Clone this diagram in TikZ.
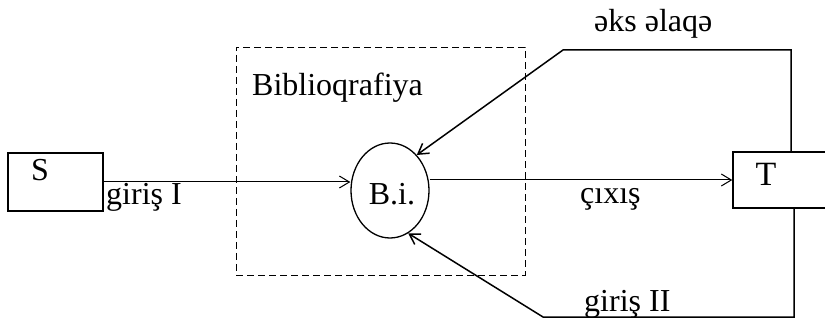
\documentclass[tikz,border=0pt]{standalone}
\usepackage{fontspec}
\setmainfont{Liberation Serif}
\usetikzlibrary{arrows.meta,shapes.geometric}

\begin{document}
\begin{tikzpicture}[x=1pt, y=-1pt,
    box/.style={rectangle, draw, line width=1.5pt, inner sep=0pt},
    lbl/.style={font=\fontsize{32}{38}\selectfont, inner sep=0pt},
    arrow/.style={-{Straight Barb[length=10pt,width=12pt]}, line width=1pt},
    feed/.style={arrow, line width=1.5pt},
    frame/.style={rectangle, draw, dash pattern=on 7pt off 4pt, line width=0.8pt, inner sep=0pt}
]
    \useasboundingbox (0,0) rectangle (825,323);
    \clip (0,0) rectangle (825,323);

    % Blocks
    \node[frame, minimum width=289pt, minimum height=228pt] (frame) at (380.5,161) {};
    \node[box, minimum width=95pt, minimum height=58pt] (Sbox) at (55.5,182) {};
    \node[box, minimum width=120pt, minimum height=56pt] (Tbox) at (793,180) {};
    \node[ellipse, draw, line width=1.3pt, minimum width=78pt, minimum height=95pt, inner sep=0pt] (Bi) at (390,190.5) {};

    % Texts
    \node[lbl, anchor=base west] (bibl) at (252,96) {Biblioqrafiya};
    \node[lbl, anchor=base] (S) at (40,181) {S};
    \node[lbl, anchor=base] (Bilbl) at (392,205) {B.i.};
    \node[lbl, font=\fontsize{34}{40}\selectfont, anchor=base] (T) at (766,186) {T};
    \node[lbl, anchor=base west] (in1) at (106,205) {giriş I};
    \node[lbl, anchor=base west] (out) at (580,204) {çıxış};
    \node[lbl, anchor=base west] (fb) at (594,32) {əks əlaqə};
    \node[lbl, anchor=base west] (in2) at (584,312) {giriş II};

    \coordinate (fbtop) at (563,50);
    \coordinate (fbbot) at (543,317);

    % Arrows
    \draw[arrow] (Sbox) -- (Sbox -| Bi.west);
    \draw[arrow] (Tbox.west -| Bi.east) -- (Tbox.west);
    \draw[feed] ([xshift=-2pt]Tbox.north) |- (fbtop) -- (Bi.53);
    \draw[feed] ([xshift=1pt]Tbox.south) |- (fbbot) -- (Bi.-67);
\end{tikzpicture}
\end{document}
